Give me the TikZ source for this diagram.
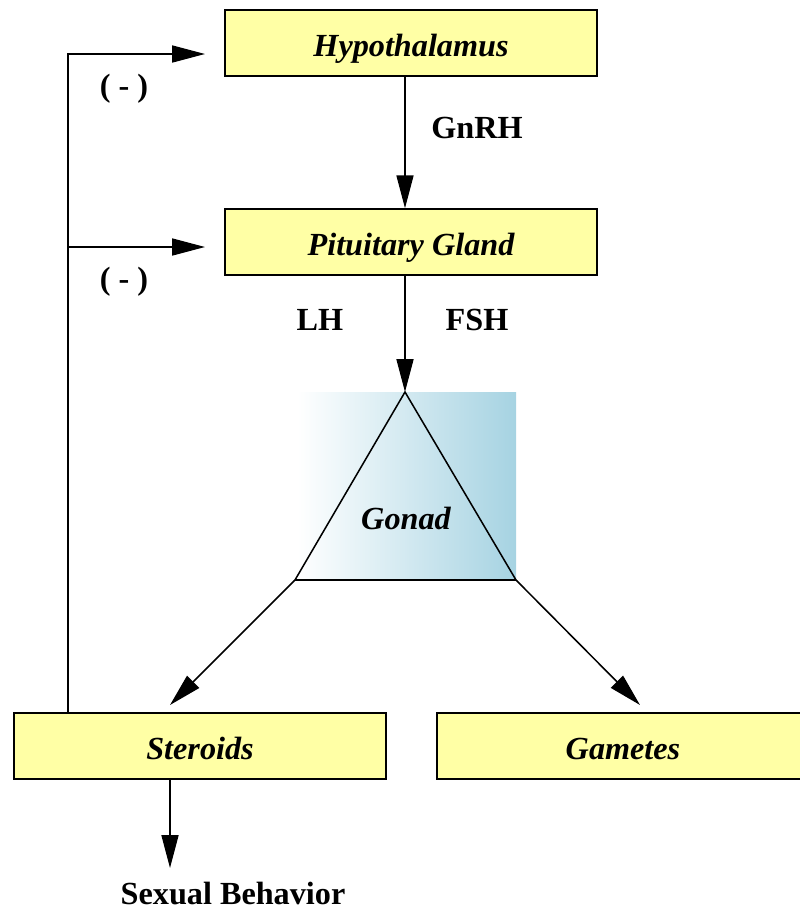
\documentclass[tikz,border=0pt]{standalone}
\usepackage{fontspec}
\setmainfont{Liberation Serif}
\usetikzlibrary{arrows.meta}
\definecolor{boxyellow}{RGB}{255,255,165}
\definecolor{gonadblue}{RGB}{166,211,226}

\begin{document}
\begin{tikzpicture}
        [x=0.03cm, y=-0.03cm, every node/.style={font=\fontsize{27.5}{33}\selectfont\bfseries},
         box/.style={draw, fill=boxyellow, line width=1.3pt, minimum width=11.16cm, minimum height=1.98cm, inner sep=0, text height=23pt, text depth=0pt, font=\fontsize{27.5}{33}\selectfont\bfseries\itshape},
         arr/.style={line width=1.3pt, -{Triangle[length=28pt, width=14.5pt]}}]

        \useasboundingbox (0,0) rectangle (799,913);

        \node[box] (hypo) at (411, 43) {Hypothalamus};
        \node[box] (pit) at (411, 242) {Pituitary Gland};
        \node[box] (ster) at (200, 746) {Steroids};
        \node[box] (gam) at (623, 746) {Gametes};
        \node (sex) at (233, 894) {Sexual Behavior};

        \node (gnrh) at (477, 128) {GnRH};
        \node (lh) at (320, 320) {LH};
        \node (fsh) at (477, 320) {FSH};
        \node (neg1) at (124, 89) {( - )};
        \node (neg2) at (124, 282) {( - )};

        % gonad
        \coordinate (gtop) at (405, 392);
        \coordinate (gl) at (295, 580);
        \coordinate (gr) at (516, 580);
        \shade[left color=white, right color=gonadblue] (297, 392) rectangle (516, 580);
        \draw[line width=1.3pt, line join=miter] (gtop) -- (gl) -- (gr) -- cycle;
        \node (gonad) at (406, 518) {\itshape Gonad};

        \coordinate (stin) at (170, 705);
        \coordinate (gamin) at (640, 705);
        \coordinate (sexin) at (170, 868);
        \coordinate (fb) at (68, 54);
        \coordinate (hin) at (205, 54);
        \coordinate (pin) at (205, 247);

        \draw[arr] (hypo.south -| gtop) -- (pit.north -| gtop);
        \draw[arr] (pit.south -| gtop) -- (gtop);
        \draw[arr] (gl) -- (stin);
        \draw[arr] (gr) -- (gamin);
        \draw[arr] (ster.south -| sexin) -- (sexin);
        \draw[arr] (ster.north -| fb) -- (fb) -- (hin);
        \draw[arr] (fb |- pin) -- (pin);

      \end{tikzpicture}
\end{document}
